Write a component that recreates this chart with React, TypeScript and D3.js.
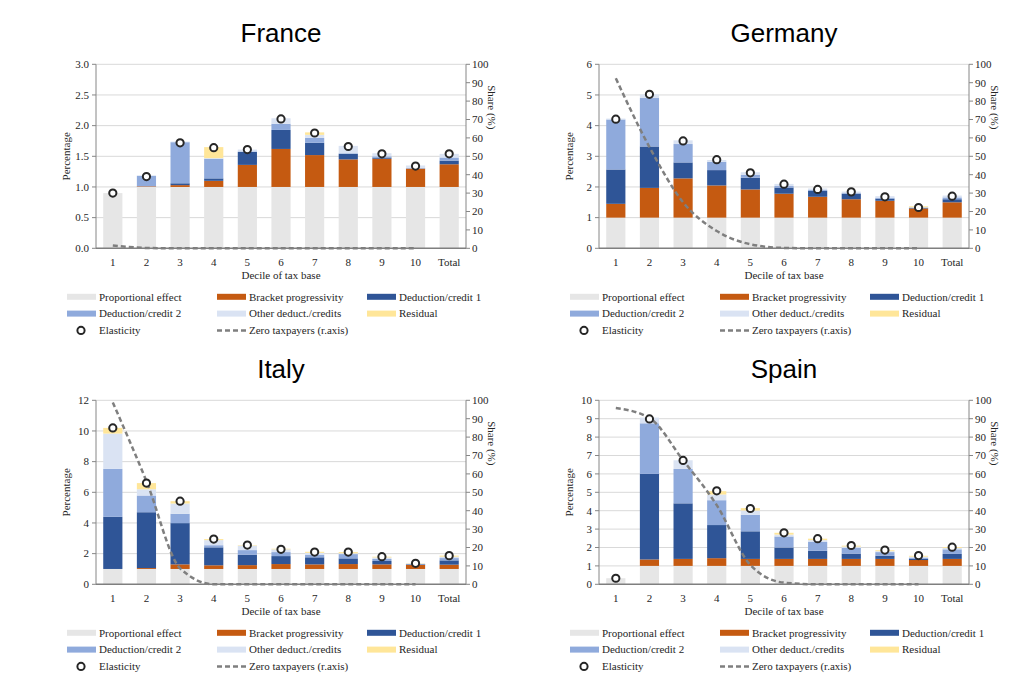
import * as d3 from 'd3'

const deciles = ['1', '2', '3', '4', '5', '6', '7', '8', '9', '10', 'Total']
const lineDeciles = deciles.slice(0, 10)

const seriesNames = ['Proportional effect', 'Bracket progressivity', 'Deduction/credit 1', 'Deduction/credit 2', 'Other deduct./credits', 'Residual']
const seriesColors = ['#e6e6e6', '#c55a11', '#2f5597', '#8faadc', '#dae3f3', '#ffe699']

// France
const frProp = [0.9, 1, 1, 1, 1, 1, 1, 1, 1, 1, 1]
const frBracket = [0, 0.01, 0.03, 0.1, 0.36, 0.62, 0.52, 0.45, 0.46, 0.3, 0.37]
const frDed1 = [0, 0, 0.03, 0.04, 0.21, 0.31, 0.2, 0.09, 0.02, 0, 0.06]
const frDed2 = [0, 0.17, 0.67, 0.32, 0.01, 0.1, 0.08, 0.01, 0.02, 0.01, 0.05]
const frOther = [0, 0.01, 0.01, 0.01, 0.03, 0.09, 0.05, 0.12, 0.05, 0.04, 0.06]
const frResidual = [0, 0, 0, 0.18, 0, 0, 0.04, 0, 0, 0, 0]
const frElasticity = [0.9, 1.17, 1.72, 1.64, 1.61, 2.11, 1.88, 1.66, 1.54, 1.34, 1.54]
const frZero = [1.5, 0.2, 0, 0, 0, 0, 0, 0, 0, 0]

// Germany
const deProp = [1, 1, 1, 1, 1, 1, 1, 1, 1, 1, 1]
const deBracket = [0.45, 0.97, 1.28, 1.05, 0.92, 0.78, 0.68, 0.6, 0.55, 0.3, 0.5]
const deDed1 = [1.12, 1.35, 0.52, 0.5, 0.38, 0.2, 0.19, 0.18, 0.07, 0.02, 0.1]
const deDed2 = [1.63, 1.58, 0.6, 0.27, 0.1, 0.05, 0.03, 0.02, 0.03, 0.01, 0.06]
const deOther = [0.03, 0.12, 0.12, 0.06, 0.08, 0.07, 0.05, 0.05, 0.05, 0.01, 0.06]
const deResidual = [0, 0, 0, 0, 0, 0, 0, 0, 0, 0.03, 0]
const deElasticity = [4.21, 5.02, 3.5, 2.89, 2.46, 2.09, 1.92, 1.84, 1.68, 1.33, 1.7]
const deZero = [92.4, 55, 25, 9.4, 2.2, 0.2, 0, 0, 0, 0]

// Italy
const itProp = [1, 1, 1, 1, 1, 1, 1, 1, 1, 1, 1]
const itBracket = [0, 0.06, 0.3, 0.24, 0.25, 0.32, 0.3, 0.32, 0.3, 0.26, 0.28]
const itDed1 = [3.4, 3.64, 2.69, 1.17, 0.68, 0.52, 0.46, 0.37, 0.22, 0.04, 0.28]
const itDed2 = [3.13, 1.09, 0.61, 0.14, 0.3, 0.26, 0.17, 0.28, 0.13, 0.03, 0.15]
const itOther = [2.3, 0.41, 0.67, 0.33, 0.29, 0.18, 0.12, 0.05, 0.1, 0.03, 0.09]
const itResidual = [0.37, 0.4, 0.15, 0.07, 0.03, 0.04, 0.07, 0.08, 0.05, 0.02, 0.07]
const itElasticity = [10.2, 6.6, 5.42, 2.95, 2.56, 2.28, 2.1, 2.1, 1.8, 1.37, 1.87]
const itZero = [98.8, 56, 8.7, 0, 0, 0, 0, 0, 0, 0]

// Spain
const esProp = [0.33, 1, 1, 1, 1, 1, 1, 1, 1, 1, 1]
const esBracket = [0, 0.35, 0.38, 0.42, 0.38, 0.38, 0.38, 0.38, 0.38, 0.32, 0.38]
const esDed1 = [0, 4.65, 3.02, 1.8, 1.5, 0.62, 0.44, 0.29, 0.17, 0.06, 0.27]
const esDed2 = [0, 2.75, 1.87, 1.35, 0.9, 0.6, 0.48, 0.31, 0.2, 0.07, 0.25]
const esOther = [0, 0.31, 0.47, 0.31, 0.23, 0.1, 0.1, 0.07, 0.05, 0.05, 0.07]
const esResidual = [0, 0, 0, 0.18, 0.13, 0.1, 0.08, 0.05, 0.05, 0.05, 0.05]
const esElasticity = [0.33, 8.99, 6.73, 5.08, 4.12, 2.8, 2.48, 2.11, 1.86, 1.56, 2.02]
const esZero = [95.8, 90.4, 67.4, 43, 10.5, 0.9, 0, 0, 0, 0]

const shareTicks = [0, 10, 20, 30, 40, 50, 60, 70, 80, 90, 100]

const SERIF = '"Liberation Serif", "Times New Roman", serif'
const SANS = '"Liberation Sans", Arial, sans-serif'

type PanelProps = {
  title: string
  left: number
  top: number
  yMax: number
  yStep: number
  fmt: string
  series: number[][]
  elasticity: number[]
  zero: number[]
}

const W = 370
const H = 184

function Panel({ title, left, top, yMax, yStep, fmt, series, elasticity, zero }: PanelProps) {
  const x = d3.scaleBand().domain(deciles).range([left, left + W]).paddingInner(0.43).paddingOuter(0.215)
  const y = d3.scaleLinear().domain([0, yMax]).range([top + H, top])
  const yR = d3.scaleLinear().domain([0, 100]).range([top + H, top])
  const yTicks = d3.range(0, yMax + yStep / 2, yStep)
  const f = d3.format(fmt)

  const rows = deciles.map((d, i) => {
    const o: any = { decile: d }
    seriesNames.forEach((s, k) => { o[s] = series[k][i] })
    return o
  })
  const stacked = d3.stack<any>().keys(seriesNames)(rows)

  const line = d3.line<number>()
    .x((_, i) => x(lineDeciles[i])! + x.bandwidth() / 2)
    .y(v => yR(v))
    .curve(d3.curveMonotoneX)

  const right = left + W
  const bottom = top + H
  const cx = left + W / 2

  return (
    <g>
      <text x={cx} y={top - 22} textAnchor="middle" fontFamily={SANS} fontSize={26} fill="#000">{title}</text>
      {yTicks.slice(1).map(t => (
        <line key={'g' + t} x1={left} x2={right} y1={y(t)} y2={y(t)} stroke="#d9d9d9" strokeWidth={1} />
      ))}
      {stacked.map((layer, k) => (
        <g key={layer.key} fill={seriesColors[k]}>
          {layer.map((seg, i) => seg[1] - seg[0] > 0 ? (
            <rect key={i} x={x(deciles[i])} width={x.bandwidth()} y={y(seg[1])} height={y(seg[0]) - y(seg[1])} />
          ) : null)}
        </g>
      ))}
      <path d={line(zero) || ''} fill="none" stroke="#7f7f7f" strokeWidth={2.5} strokeDasharray="5,3" />
      {elasticity.map((v, i) => (
        <circle key={'e' + i} cx={x(deciles[i])! + x.bandwidth() / 2} cy={y(v)} r={3.6} fill="#fff" stroke="#262626" strokeWidth={2} />
      ))}
      {/* axes */}
      <line x1={left} x2={left} y1={top} y2={bottom} stroke="#868686" strokeWidth={1} />
      <line x1={right} x2={right} y1={top} y2={bottom} stroke="#868686" strokeWidth={1} />
      <line x1={left} x2={right} y1={bottom} y2={bottom} stroke="#7f7f7f" strokeWidth={1.5} />
      {yTicks.map(t => (
        <g key={'yl' + t}>
          <line x1={left - 4} x2={left} y1={y(t)} y2={y(t)} stroke="#868686" />
          <text x={left - 7} y={y(t) + 3.8} textAnchor="end" fontFamily={SERIF} fontSize={11} fill="#262626">{f(t)}</text>
        </g>
      ))}
      {shareTicks.map(t => (
        <g key={'yr' + t}>
          <line x1={right} x2={right + 4} y1={yR(t)} y2={yR(t)} stroke="#868686" />
          <text x={right + 6} y={yR(t) + 3.8} fontFamily={SERIF} fontSize={11} fill="#262626">{t}</text>
        </g>
      ))}
      {deciles.map(d => (
        <text key={'x' + d} x={x(d)! + x.bandwidth() / 2} y={bottom + 17.5} textAnchor="middle" fontFamily={SERIF} fontSize={11} fill="#262626">{d}</text>
      ))}
      <text x={cx} y={bottom + 31} textAnchor="middle" fontFamily={SERIF} fontSize={11} fill="#262626">Decile of tax base</text>
      <text transform={`translate(${left - 26},${top + H / 2}) rotate(-90)`} textAnchor="middle" fontFamily={SERIF} fontSize={11} fill="#262626">Percentage</text>
      <text transform={`translate(${right + 22},${top + 43}) rotate(90)`} textAnchor="middle" fontFamily={SERIF} fontSize={11} fill="#262626">Share (%)</text>
      <Legend left={left - 29} top={bottom + 48.5} />
    </g>
  )
}

function Legend({ left, top }: { left: number; top: number }) {
  const colW = 150
  const rowH = 16.8
  return (
    <g fontFamily={SERIF} fontSize={11} fill="#262626">
      {seriesNames.map((s, k) => {
        const cx = left + (k % 3) * colW
        const cy = top + Math.floor(k / 3) * rowH
        return (
          <g key={s}>
            <rect x={cx} y={cy - 3} width={29} height={6} fill={seriesColors[k]} />
            <text x={cx + 32} y={cy + 3.8}>{s}</text>
          </g>
        )
      })}
      <circle cx={left + 14} cy={top + 2 * rowH} r={3.6} fill="#fff" stroke="#262626" strokeWidth={2} />
      <text x={left + 32} y={top + 2 * rowH + 3.8}>Elasticity</text>
      <line x1={left + colW} x2={left + colW + 29} y1={top + 2 * rowH} y2={top + 2 * rowH} stroke="#7f7f7f" strokeWidth={2.5} strokeDasharray="5,3" />
      <text x={left + colW + 32} y={top + 2 * rowH + 3.8}>Zero taxpayers (r.axis)</text>
    </g>
  )
}

export default function App() {
  return (
    <div style={{ position: 'absolute', left: 0, top: 0 }}>
      <svg width={1024} height={696} viewBox="0 0 1024 696" style={{ display: 'block', background: '#fff' }}>
        <Panel title="France" left={96} top={64.3} yMax={3} yStep={0.5} fmt=".1f"
          series={[frProp, frBracket, frDed1, frDed2, frOther, frResidual]} elasticity={frElasticity} zero={frZero} />
        <Panel title="Germany" left={599} top={64.3} yMax={6} yStep={1} fmt="d"
          series={[deProp, deBracket, deDed1, deDed2, deOther, deResidual]} elasticity={deElasticity} zero={deZero} />
        <Panel title="Italy" left={96} top={400.3} yMax={12} yStep={2} fmt="d"
          series={[itProp, itBracket, itDed1, itDed2, itOther, itResidual]} elasticity={itElasticity} zero={itZero} />
        <Panel title="Spain" left={599} top={400.3} yMax={10} yStep={1} fmt="d"
          series={[esProp, esBracket, esDed1, esDed2, esOther, esResidual]} elasticity={esElasticity} zero={esZero} />
      </svg>
    </div>
  )
}
